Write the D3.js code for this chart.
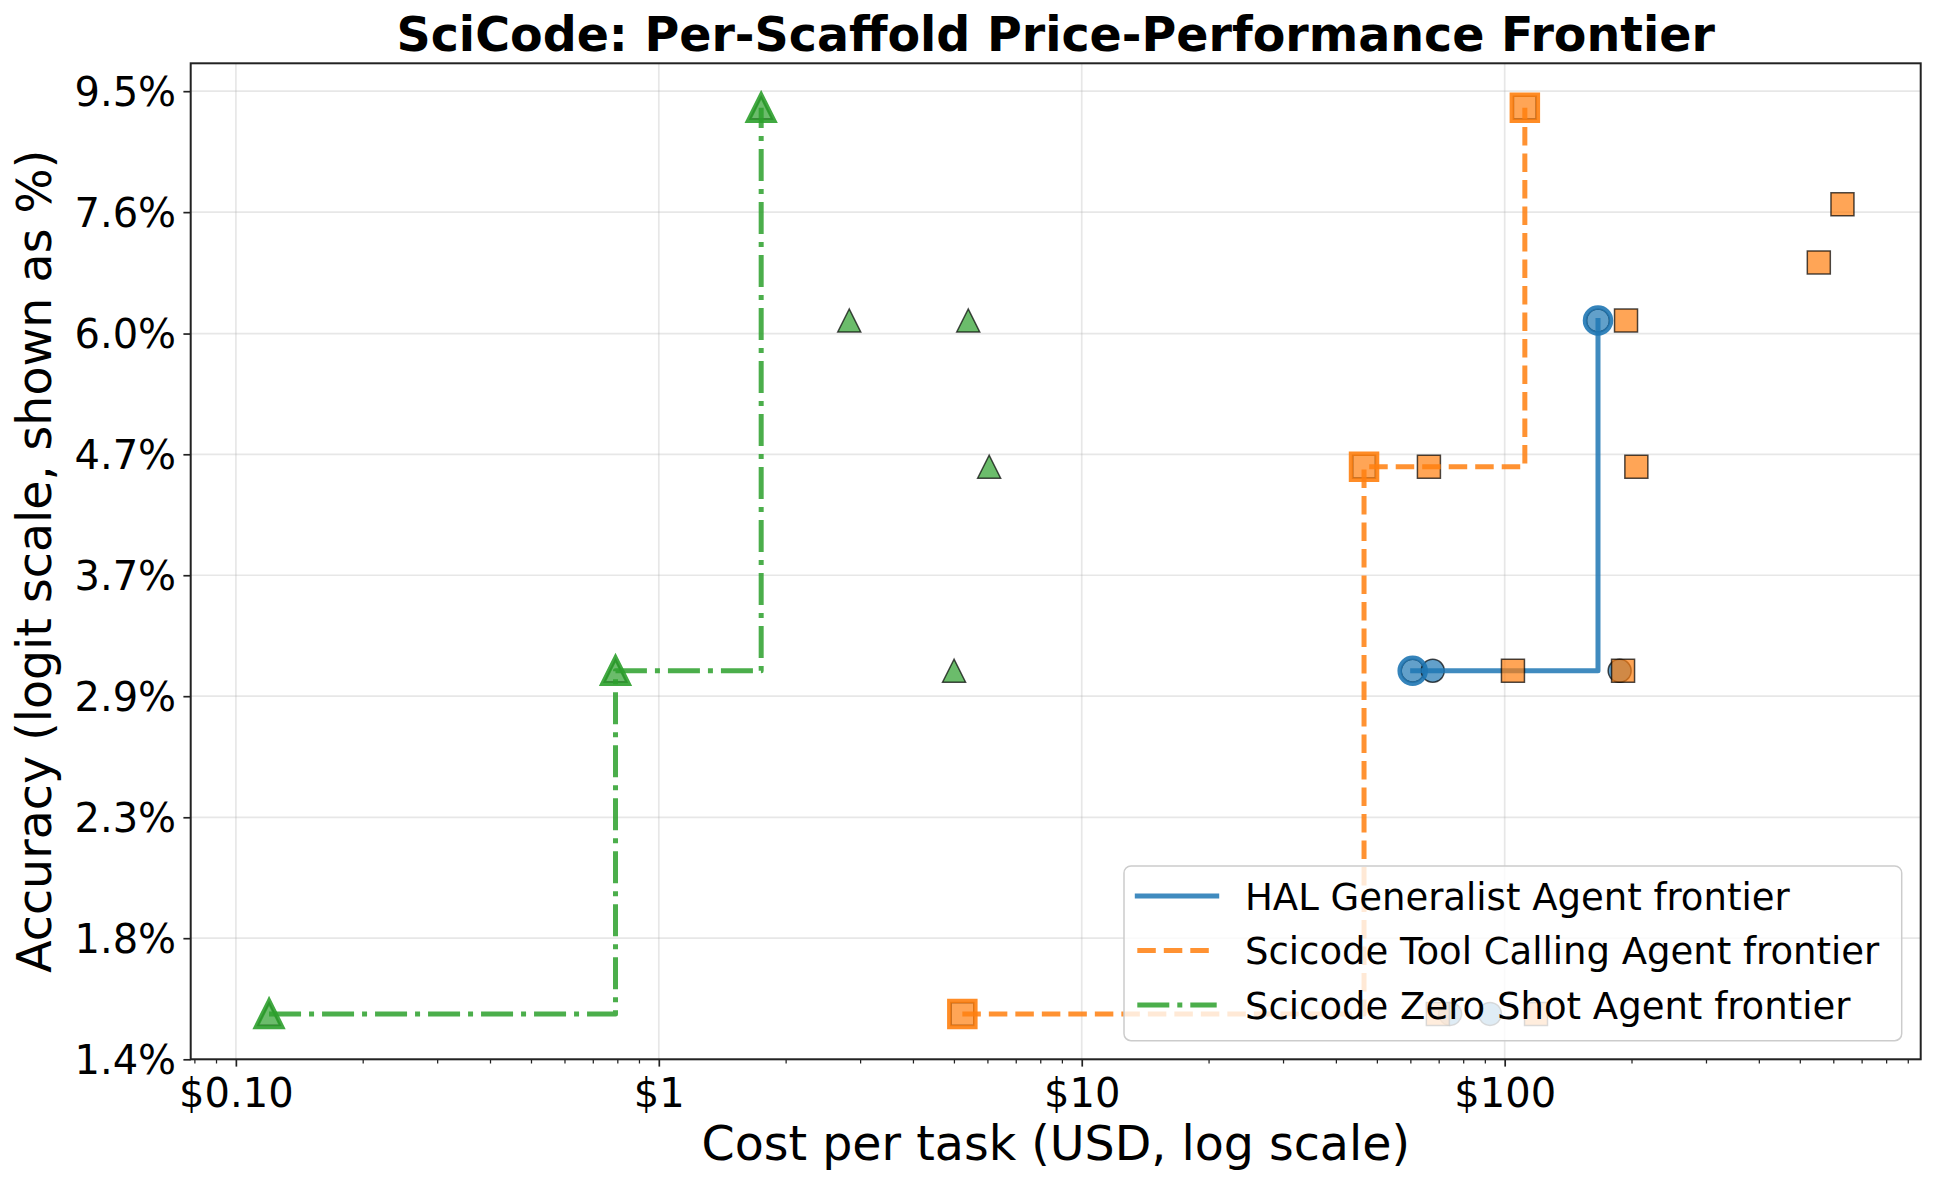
<!DOCTYPE html>
<html><head>
<meta charset="UTF-8">
<title>SciCode: Per-Scaffold Price-Performance Frontier</title>
<script src="https://cdn.jsdelivr.net/npm/d3@7"></script>
<style>
  body { margin: 0; background: #fff; }
  text { font-family: "DejaVu Sans", sans-serif; fill: #000; }
  .grid line { stroke: #b0b0b0; stroke-opacity: 0.3; stroke-width: 1.7px; }
  .axis path.domain { display: none; }
  .axis line { stroke: #222; }
</style>
</head>
<body>
<svg id="chart" width="1935" height="1187"></svg>
<script>
// --- data ---
const halCost = [60.6, 67.6, 187, 166.2, 74.3, 92.3];
const halAcc  = [0.0308, 0.0308, 0.0308, 0.0615, 0.0154, 0.0154];

const toolCost = [5.22, 46.5, 66.2, 204.8, 111.6, 104.6, 190.5, 193.6, 553, 629, 69.5, 118.6];
const toolAcc  = [0.0154, 0.0462, 0.0462, 0.0462, 0.0923, 0.0308, 0.0308, 0.0615, 0.0688, 0.0769, 0.0154, 0.0154];

const zeroCost = [0.1198, 0.790, 1.746, 2.82, 5.39, 6.04, 4.99];
const zeroAcc  = [0.0154, 0.0308, 0.0923, 0.0615, 0.0615, 0.0462, 0.0308];

const seriesNames = ["HAL Generalist Agent", "Scicode Tool Calling Agent", "Scicode Zero Shot Agent"];
const seriesColors = ["#1f77b4", "#ff7f0e", "#2ca02c"];
const seriesShapes = ["circle", "square", "triangle"];
const seriesDash = [null, "18.5,8", "32,8,5,8"];

const xLim = [0.0782, 963];
const xTickVals = [0.1, 1, 10, 100];
const xTickLabels = ["$0.10", "$1", "$10", "$100"];

const yLim = [0.01404, 0.1003];
const yTickVals = [0.01404, 0.01796, 0.02294, 0.02927, 0.03727, 0.04735, 0.05996, 0.07576, 0.09522];

// --- layout ---
const W = 1935, H = 1187;
const plot = {left: 190.7, right: 1920.7, top: 63.3, bottom: 1059.3};

const svg = d3.select("#chart");
svg.append("rect").attr("width", W).attr("height", H).attr("fill", "#fff");

const logit = p => Math.log(p / (1 - p));
const expit = l => 1 / (1 + Math.exp(-l));

const x = d3.scaleLog().domain(xLim).range([plot.left, plot.right]);
const yLin = d3.scaleLinear().domain(yLim.map(logit)).range([plot.bottom, plot.top]);
const y = p => yLin(logit(p));

// grid
const grid = svg.append("g").attr("class", "grid");
grid.selectAll("line.gx").data(xTickVals).join("line")
    .attr("x1", d => x(d)).attr("x2", d => x(d))
    .attr("y1", plot.top).attr("y2", plot.bottom);
grid.selectAll("line.gy").data(yTickVals).join("line")
    .attr("class", "gy")
    .attr("x1", plot.left).attr("x2", plot.right)
    .attr("y1", d => y(d)).attr("y2", d => y(d));

// markers
function markerPath(shape, s) {
  if (shape === "circle") return d3.symbol(d3.symbolCircle, Math.PI * (s / 2) * (s / 2))();
  if (shape === "square") return d3.symbol(d3.symbolSquare, s * s)();
  const h = s / 2;
  return `M0,${-h}L${-h},${h}L${h},${h}Z`;
}

function frontier(pts) {
  const sorted = pts.slice().sort((a, b) => a.cost - b.cost);
  const out = [];
  let best = -Infinity;
  sorted.forEach(p => { if (p.acc > best) { out.push(p); best = p.acc; } });
  return out;
}

const allSeries = [
  {cost: halCost, acc: halAcc},
  {cost: toolCost, acc: toolAcc},
  {cost: zeroCost, acc: zeroAcc}
].map((s, i) => ({
  name: seriesNames[i],
  color: seriesColors[i],
  shape: seriesShapes[i],
  dash: seriesDash[i],
  points: s.cost.map((c, j) => ({cost: c, acc: s.acc[j]}))
}));

const line = d3.line().x(d => x(d.cost)).y(d => y(d.acc)).curve(d3.curveStepAfter);

allSeries.forEach(s => {
  const g = svg.append("g");
  g.selectAll("path.pt").data(s.points).join("path")
      .attr("class", "pt")
      .attr("transform", d => `translate(${x(d.cost)},${y(d.acc)})`)
      .attr("d", markerPath(s.shape, 23))
      .attr("fill", s.color).attr("fill-opacity", 0.7)
      .attr("stroke", "#000").attr("stroke-opacity", 0.7).attr("stroke-width", 1.5);

  const f = frontier(s.points);
  g.append("path")
      .datum(f)
      .attr("d", line)
      .attr("fill", "none")
      .attr("stroke", s.color).attr("stroke-opacity", 0.85)
      .attr("stroke-width", 5)
      .attr("stroke-linejoin", "round")
      .attr("stroke-linecap", s.dash ? "butt" : "square")
      .attr("stroke-dasharray", s.dash);

  g.selectAll("path.fr").data(f).join("path")
      .attr("class", "fr")
      .attr("transform", d => `translate(${x(d.cost)},${y(d.acc)})`)
      .attr("d", markerPath(s.shape, 26))
      .attr("fill", "none")
      .attr("stroke", s.color).attr("stroke-opacity", 0.9).attr("stroke-width", 4.5);
});

// axes
const xAxis = svg.append("g").attr("class", "axis")
    .attr("transform", `translate(0,${plot.bottom})`)
    .call(d3.axisBottom(x).tickValues(xTickVals)
      .tickFormat((d, i) => xTickLabels[i]).tickSize(7.3).tickPadding(7.3));
xAxis.selectAll(".tick line").attr("stroke-width", 1.7);
xAxis.selectAll("text").attr("y", 47.7).attr("dy", 0)
    .style("font-size", "40px").attr("fill", "#000");

// minor x ticks
const minor = x.ticks().filter(v => !xTickVals.some(t => Math.abs(t - v) / t < 1e-6));
svg.append("g").attr("class", "axis").selectAll("line").data(minor).join("line")
    .attr("x1", d => x(d)).attr("x2", d => x(d))
    .attr("y1", plot.bottom).attr("y2", plot.bottom + 4.2)
    .attr("stroke-width", 1.25);

const yAxis = svg.append("g").attr("class", "axis")
    .attr("transform", `translate(${plot.left},0)`)
    .call(d3.axisLeft(yLin).tickValues(yTickVals.map(logit))
      .tickFormat(l => d3.format(".1%")(expit(l))).tickSize(7.3).tickPadding(7.3));
yAxis.selectAll(".tick line").attr("stroke-width", 1.7);
yAxis.selectAll("text").attr("dy", "0.36em")
    .style("font-size", "40px").attr("fill", "#000");

// spines
svg.append("rect")
    .attr("x", plot.left).attr("y", plot.top)
    .attr("width", plot.right - plot.left).attr("height", plot.bottom - plot.top)
    .attr("fill", "none").attr("stroke", "#222").attr("stroke-width", 2);

// labels
const cx = (plot.left + plot.right) / 2;
svg.append("text").attr("x", cx).attr("y", 51)
    .attr("text-anchor", "middle").style("font-size", "47.5px").style("font-weight", "bold")
    .text("SciCode: Per-Scaffold Price-Performance Frontier");
svg.append("text").attr("x", cx).attr("y", 1160)
    .attr("text-anchor", "middle").style("font-size", "47.5px")
    .text("Cost per task (USD, log scale)");
svg.append("text")
    .attr("transform", `translate(50.7,${(plot.top + plot.bottom) / 2}) rotate(-90)`)
    .attr("text-anchor", "middle").style("font-size", "47.5px")
    .text("Accuracy (logit scale, shown as %)");

// legend
const leg = svg.append("g");
leg.append("rect")
    .attr("x", 1124).attr("y", 866).attr("width", 1901.7 - 1124).attr("height", 1040.7 - 866)
    .attr("rx", 7).attr("fill", "#fff").attr("fill-opacity", 0.8)
    .attr("stroke", "#cccccc").attr("stroke-width", 1.5);
allSeries.forEach((s, i) => {
  const ry = 896 + i * 54.5;
  leg.append("line")
      .attr("x1", 1137.3).attr("x2", 1216.7).attr("y1", ry).attr("y2", ry)
      .attr("stroke", s.color).attr("stroke-opacity", 0.85).attr("stroke-width", 5)
      .attr("stroke-linecap", s.dash ? "butt" : "square")
      .attr("stroke-dasharray", s.dash);
  leg.append("text").attr("x", 1245).attr("y", ry + 13.5)
      .style("font-size", "37px")
      .text(s.name + " frontier");
});
</script>
</body></html>
